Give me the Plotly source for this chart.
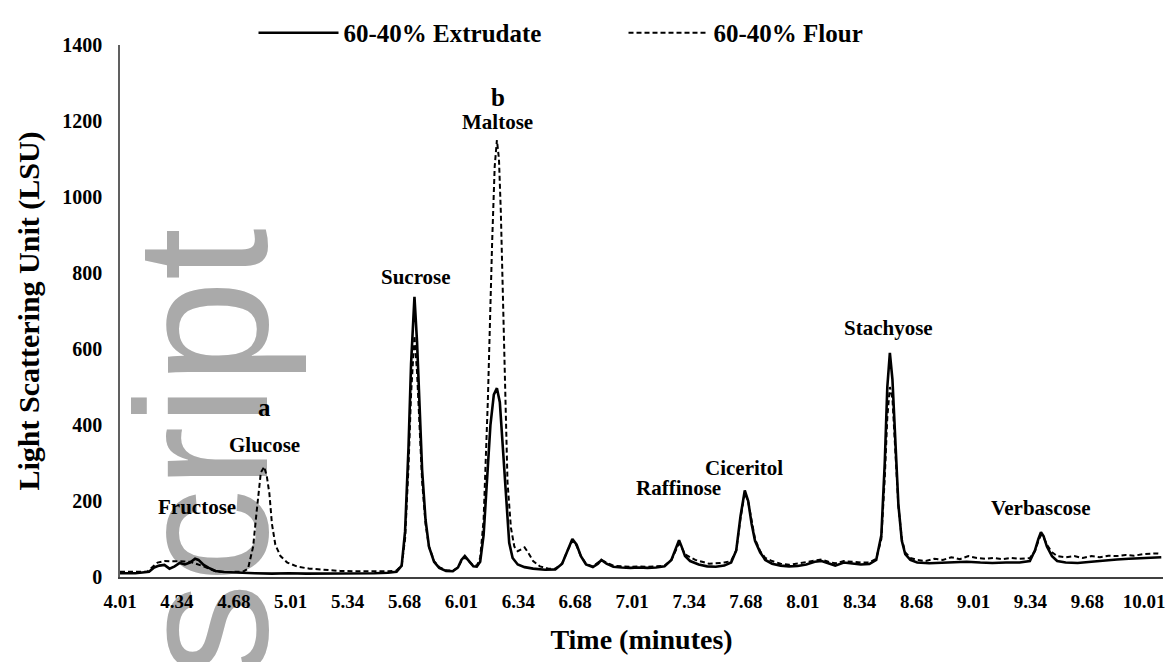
import plotly.graph_objects as go

# ---- data ----
ext_time = [4.01, 4.10, 4.18, 4.21, 4.24, 4.27, 4.30, 4.33, 4.36, 4.39, 4.42, 4.45, 4.47, 4.50, 4.53, 4.57,
            4.62, 4.70, 4.80, 4.90, 5.00, 5.10, 5.20, 5.30, 5.40, 5.50, 5.58, 5.63, 5.66, 5.68, 5.70, 5.715,
            5.735, 5.75, 5.765, 5.78, 5.80, 5.82, 5.85, 5.88, 5.92, 5.96, 5.99, 6.01, 6.03, 6.05, 6.08, 6.10,
            6.12, 6.14, 6.16, 6.18, 6.20, 6.218, 6.235, 6.25, 6.27, 6.29, 6.31, 6.34, 6.38, 6.43, 6.50, 6.56,
            6.60, 6.63, 6.66, 6.685, 6.71, 6.74, 6.78, 6.81, 6.83, 6.86, 6.90, 6.95, 7.00, 7.05, 7.10, 7.15,
            7.20, 7.24, 7.27, 7.285, 7.30, 7.32, 7.35, 7.40, 7.45, 7.50, 7.55, 7.59, 7.62, 7.645, 7.67, 7.69,
            7.71, 7.73, 7.76, 7.79, 7.83, 7.88, 7.93, 7.98, 8.03, 8.08, 8.12, 8.16, 8.20, 8.25, 8.30, 8.35,
            8.40, 8.44, 8.47, 8.49, 8.505, 8.52, 8.535, 8.55, 8.57, 8.59, 8.61, 8.64, 8.68, 8.75, 8.82, 8.90,
            8.97, 9.05, 9.12, 9.20, 9.28, 9.34, 9.37, 9.39, 9.405, 9.42, 9.44, 9.47, 9.50, 9.55, 9.62, 9.70,
            9.78, 9.85, 9.92, 10.00, 10.08, 10.11]
ext_lsu = [10, 10, 14, 25, 30, 32, 22, 28, 37, 33, 38, 48, 45, 32, 24, 16,
           13, 11, 10, 9, 10, 9, 9, 9, 10, 10, 11, 14, 30, 120, 340, 560,
           737, 620, 450, 280, 150, 80, 40, 24, 16, 15, 25, 45, 55, 45, 28, 27,
           40, 110, 250, 400, 480, 497, 460, 360, 200, 90, 50, 33, 26, 22, 19, 20,
           35, 70, 100, 85, 55, 33, 26, 35, 45, 35, 27, 25, 24, 25, 24, 25,
           28, 45, 80, 97, 80, 55, 42, 33, 28, 27, 30, 38, 70, 160, 228, 200,
           140, 95, 65, 45, 35, 30, 28, 29, 33, 40, 42, 36, 30, 38, 35, 33,
           34, 45, 110, 300, 500, 590, 520, 360, 190, 95, 60, 45, 38, 36, 37, 38,
           40, 38, 37, 38, 38, 42, 70, 100, 118, 108, 80, 55, 42, 38, 37, 40,
           44, 46, 48, 50, 52, 52]

flour_time = [4.01, 4.10, 4.17, 4.21, 4.23, 4.27, 4.31, 4.35, 4.39, 4.42, 4.46, 4.50, 4.53, 4.57, 4.62, 4.68,
              4.73, 4.76, 4.79, 4.81, 4.835, 4.855, 4.87, 4.885, 4.90, 4.92, 4.95, 4.99, 5.05, 5.12, 5.20, 5.30,
              5.40, 5.50, 5.58, 5.63, 5.66, 5.68, 5.70, 5.715, 5.735, 5.75, 5.765, 5.78, 5.80, 5.82, 5.85, 5.88,
              5.92, 5.96, 5.99, 6.01, 6.03, 6.05, 6.08, 6.10, 6.12, 6.14, 6.165, 6.19, 6.205, 6.218, 6.23, 6.241,
              6.255, 6.265, 6.28, 6.30, 6.32, 6.34, 6.36, 6.38, 6.40, 6.43, 6.47, 6.52, 6.56, 6.60, 6.63, 6.66,
              6.685, 6.71, 6.74, 6.78, 6.81, 6.83, 6.86, 6.90, 6.95, 7.00, 7.05, 7.10, 7.15, 7.20, 7.24, 7.27,
              7.285, 7.30, 7.32, 7.35, 7.38, 7.42, 7.46, 7.50, 7.55, 7.59, 7.62, 7.645, 7.67, 7.69, 7.71, 7.73,
              7.76, 7.79, 7.83, 7.88, 7.93, 7.98, 8.03, 8.08, 8.12, 8.16, 8.20, 8.25, 8.30, 8.35, 8.40, 8.44,
              8.47, 8.49, 8.505, 8.52, 8.535, 8.55, 8.57, 8.59, 8.61, 8.64, 8.68, 8.73, 8.78, 8.83, 8.88, 8.93,
              8.98, 9.03, 9.08, 9.13, 9.18, 9.23, 9.28, 9.34, 9.37, 9.39, 9.405, 9.42, 9.44, 9.47, 9.50, 9.55,
              9.60, 9.65, 9.70, 9.75, 9.80, 9.85, 9.90, 9.95, 10.00, 10.08, 10.11]
flour_lsu = [14, 13, 14, 30, 38, 42, 42, 42, 41, 40, 35, 28, 22, 15, 13, 13,
             14, 22, 80, 170, 275, 290, 265, 220, 140, 85, 55, 38, 27, 22, 19, 16,
             15, 15, 15, 17, 30, 100, 290, 480, 635, 540, 400, 250, 140, 80, 42, 26,
             18, 17, 25, 42, 52, 44, 30, 30, 50, 150, 466, 880, 1080, 1150, 1100, 960,
             700, 466, 250, 130, 80, 68, 72, 78, 65, 42, 28, 22, 22, 35, 68, 95,
             82, 55, 35, 28, 38, 45, 38, 30, 28, 27, 28, 27, 28, 30, 45, 75,
             88, 78, 60, 52, 45, 40, 35, 36, 38, 42, 70, 155, 222, 198, 145, 100,
             68, 50, 42, 35, 32, 36, 38, 43, 46, 40, 36, 42, 40, 38, 38, 48,
             100, 260, 420, 500, 470, 340, 185, 100, 65, 50, 45, 42, 48, 45, 52, 47,
             55, 50, 48, 50, 47, 50, 48, 50, 68, 95, 110, 105, 85, 65, 55, 52,
             55, 50, 55, 52, 56, 55, 58, 56, 60, 62, 61]

tick_vals = [4.01 + k / 3 for k in range(19)]
tick_text = ["4.01", "4.34", "4.68", "5.01", "5.34", "5.68", "6.01", "6.34", "6.68", "7.01",
             "7.34", "7.68", "8.01", "8.34", "8.68", "9.01", "9.34", "9.68", "10.01"]

peak_names = ["Fructose", "Glucose", "a", "Sucrose", "Maltose", "b",
              "Raffinose", "Ciceritol", "Stachyose", "Verbascose"]
peak_x = [4.459, 4.855, 4.855, 5.746, 6.224, 6.224, 7.284, 7.668, 8.513, 9.404]
peak_y = [184, 347, 447, 789, 1197, 1263, 234, 287, 655, 182]

FONT = "Liberation Serif"

fig = go.Figure()
fig.add_trace(go.Scatter(x=ext_time, y=ext_lsu, mode="lines", name="<b>60-40% Extrudate</b>",
                         line=dict(color="black", width=2.6)))
fig.add_trace(go.Scatter(x=flour_time, y=flour_lsu, mode="lines", name="<b>60-40% Flour</b>",
                         line=dict(color="black", width=2, dash="5px,3px")))

for name, px_, py_ in zip(peak_names, peak_x, peak_y):
    big = name in ("a", "b")
    fig.add_annotation(x=px_, y=py_, text=f"<b>{name}</b>", showarrow=False,
                       xanchor="center", yanchor="middle",
                       font=dict(family=FONT, size=25 if big else 21, color="black"))

# watermark text behind the traces
fig.add_shape(type="rect", xref="paper", yref="paper", x0=0.0415, x1=0.0815, y0=0.184, y1=0.284,
              layer="below", line=dict(width=0), fillcolor="rgba(0,0,0,0)",
              label=dict(text="script", textangle=-90, textposition="middle center",
                         font=dict(family="Liberation Sans", size=188, color="#aaaaaa")))

# the page adds an 8px body margin, so the figure is sized/margined to land the
# plot area at the same pixels as the reference
fig.update_layout(
    width=1165, height=654,
    margin=dict(l=112, r=10, t=37, b=85, autoexpand=False),
    plot_bgcolor="white", paper_bgcolor="white",
    font=dict(family=FONT, color="black"),
    showlegend=True,
    legend=dict(orientation="h", x=0.128, y=1.0226, xanchor="left", yanchor="middle",
                itemwidth=80, entrywidth=275, entrywidthmode="pixels",
                font=dict(family=FONT, size=25, color="black"),
                bgcolor="rgba(0,0,0,0)", traceorder="normal"),
    xaxis=dict(range=[4.01, 10.12], tickmode="array", tickvals=tick_vals, ticktext=tick_text,
               showgrid=False, zeroline=False, showline=True, linecolor="#404040", linewidth=1.5,
               ticks="", ticklabelstandoff=6, automargin=False,
               tickfont=dict(family=FONT, size=19, color="black", weight="bold"),
               title=dict(text="<b>Time (minutes)</b>", font=dict(family=FONT, size=28, color="black"),
                          standoff=19)),
    yaxis=dict(range=[0, 1400], tickvals=[0, 200, 400, 600, 800, 1000, 1200, 1400],
               showgrid=False, zeroline=False, showline=True, linecolor="#606060", linewidth=1.5,
               ticks="", ticklabelstandoff=12, automargin=False,
               tickfont=dict(family=FONT, size=20, color="black", weight="bold"),
               title=dict(text="<b>Light Scattering Unit (LSU)</b>",
                          font=dict(family=FONT, size=30, color="black"), standoff=14)),
)

fig.write_html("out.html")
